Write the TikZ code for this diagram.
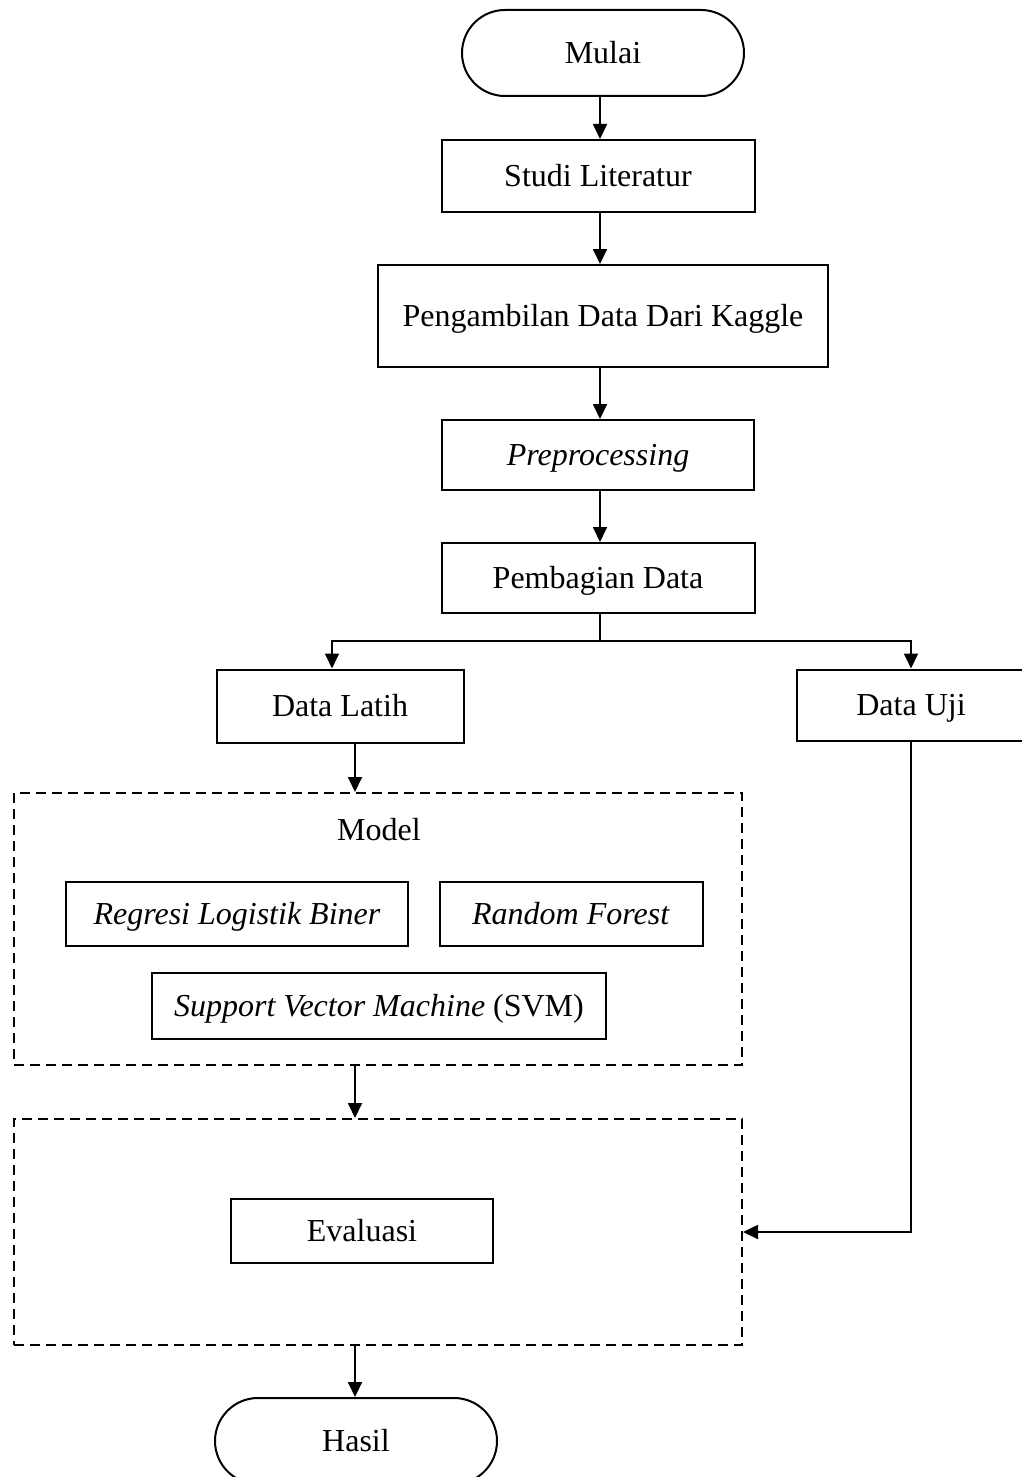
\documentclass[tikz,border=0pt]{standalone}
\usepackage{fontspec}
\setmainfont{Liberation Serif}
\usetikzlibrary{arrows.meta}
\begin{document}
\begin{tikzpicture}[x=1pt,y=-1pt,
  txt/.style={inner sep=0pt, font=\fontsize{32}{38}\selectfont, text height=22pt, text depth=1pt},
  box/.style={txt, draw, line width=2pt},
  term/.style={box, rounded corners=43pt, minimum width=282pt, minimum height=86pt},
  grp/.style={draw, line width=2pt, dash pattern=on 10pt off 6pt, inner sep=0pt},
  arr/.style={line width=1.8pt, -{Triangle[length=15pt,width=14pt]}},
  ln/.style={line width=1.8pt},
  lbl/.style={txt}]
\useasboundingbox (0,0) rectangle (1022,1477);
\coordinate (cx) at (600,0);
\coordinate (ax) at (355,0);
% main column
\node[term] (mulai) at (603,53) {Mulai};
\node[box, minimum width=313pt, minimum height=72pt] (studi) at (598,176) {Studi Literatur};
\node[box, minimum width=450pt, minimum height=102pt] (peng) at (603,316) {Pengambilan Data Dari Kaggle};
\node[box, minimum width=312pt, minimum height=70pt] (prep) at (598,455) {\textit{Preprocessing}};
\node[box, minimum width=313pt, minimum height=70pt] (pemb) at (598,578) {Pembagian Data};
% branches
\node[box, minimum width=247pt, minimum height=73pt] (latih) at (340,706) {Data Latih};
\node[box, minimum width=228pt, minimum height=71pt] (uji) at (911,705) {Data Uji};
% model group
\node[grp, minimum width=728pt, minimum height=272pt] (model) at (378,929) {};
\node[lbl] (modeltitle) at (379,830) {Model};
\node[box, minimum width=342pt, minimum height=64pt] (rlb) at (237,914) {\textit{Regresi Logistik Biner}};
\node[box, minimum width=263pt, minimum height=64pt] (rf) at (571,914) {\textit{Random Forest}};
\node[box, minimum width=454pt, minimum height=66pt] (svm) at (379,1006) {\textit{Support Vector Machine} (SVM)};
% evaluation group
\node[grp, minimum width=728pt, minimum height=226pt] (evg) at (378,1232) {};
\node[box, minimum width=262pt, minimum height=64pt] (eval) at (362,1231) {Evaluasi};
\node[term] (hasil) at (356,1441) {Hasil};
% connectors
\draw[arr] (mulai.south -| cx) -- (cx |- studi.north);
\draw[arr] (studi.south -| cx) -- (cx |- peng.north);
\draw[arr] (peng.south -| cx) -- (cx |- prep.north);
\draw[arr] (prep.south -| cx) -- (cx |- pemb.north);
\coordinate (split) at (600,641);
\coordinate (lb) at (332,641);
\coordinate (rb) at (911,641);
\draw[ln] (pemb.south -| cx) -- (split);
\draw[arr] (split) -- (lb) -- (lb |- latih.north);
\draw[arr] (split) -- (rb) -- (rb |- uji.north);
\draw[arr] (latih.south -| ax) -- (ax |- model.north);
\draw[arr] (model.south -| ax) -- (ax |- evg.north);
\draw[arr] (uji.south) |- (evg.east);
\draw[arr] (evg.south -| ax) -- (ax |- hasil.north);
\end{tikzpicture}
\end{document}
